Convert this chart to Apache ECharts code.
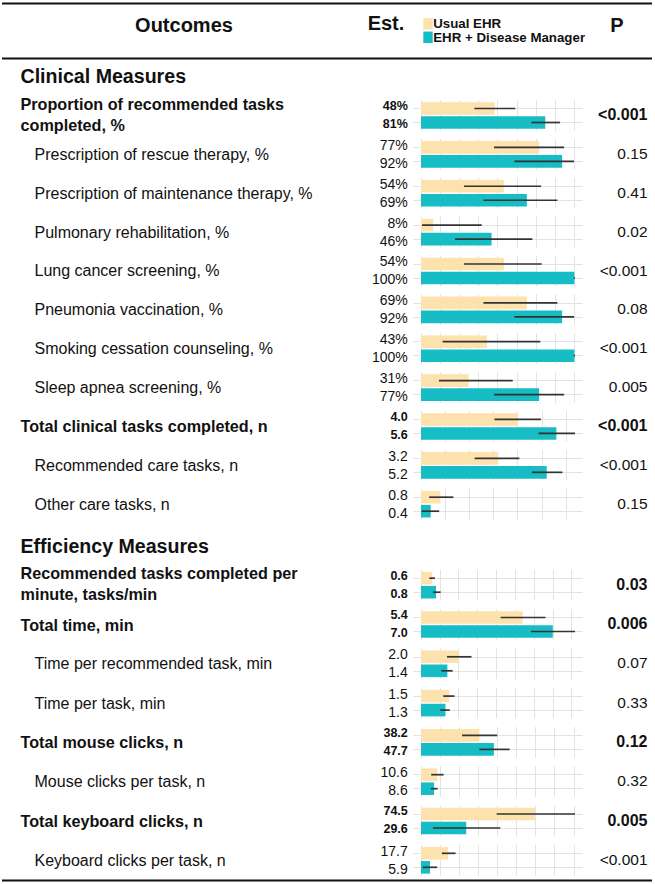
<!DOCTYPE html>
<html>
<head>
<meta charset="utf-8">
<title>Outcomes</title>
<script src="https://cdn.jsdelivr.net/npm/echarts@6/dist/echarts.min.js"></script>
<style>
  html, body { margin: 0; padding: 0; background: #fff; }
  #chart { width: 655px; height: 884px; }
</style>
</head>
<body>
<div id="chart"></div>
<script>
// outcomes, top to bottom
var outcomes = [
  'Proportion of recommended tasks\ncompleted, %',
  'Prescription of rescue therapy, %',
  'Prescription of maintenance therapy, %',
  'Pulmonary rehabilitation, %',
  'Lung cancer screening, %',
  'Pneumonia vaccination, %',
  'Smoking cessation counseling, %',
  'Sleep apnea screening, %',
  'Total clinical tasks completed, n',
  'Recommended care tasks, n',
  'Other care tasks, n',
  'Recommended tasks completed per\nminute, tasks/min',
  'Total time, min',
  'Time per recommended task, min',
  'Time per task, min',
  'Total mouse clicks, n',
  'Mouse clicks per task, n',
  'Total keyboard clicks, n',
  'Keyboard clicks per task, n'
];
var sections = ['Clinical Measures', 'Efficiency Measures'];
var sectionOf = [0, 0, 0, 0, 0, 0, 0, 0, 0, 0, 0, 1, 1, 1, 1, 1, 1, 1, 1];
var primary = [true, false, false, false, false, false, false, false, true, false, false,
  true, true, false, false, true, false, true, false];
var unitGroup = ['pct', 'pct', 'pct', 'pct', 'pct', 'pct', 'pct', 'pct',
  'count', 'count', 'count', 'time', 'time', 'time', 'time',
  'click', 'click', 'click', 'click'];

var usualEst = [48, 77, 54, 8, 54, 69, 43, 31, 4.0, 3.2, 0.8, 0.6, 5.4, 2.0, 1.5, 38.2, 10.6, 74.5, 17.7];
var usualLo  = [34.8, 47.6, 28, 0.7, 28, 40.7, 14.1, 11.7, 3.04, 2.22, 0.34, 0.44, 4.23, 1.38, 1.18, 26.9, 6.7, 49.5, 13.7];
var usualHi  = [61.5, 93.3, 78.3, 39.6, 78.7, 88.9, 77.8, 59.8, 4.96, 4.07, 1.34, 0.74, 6.61, 2.68, 1.78, 49.9, 14.8, 100.8, 22.6];

var dmEst = [81, 92, 69, 46, 100, 92, 100, 77, 5.6, 5.2, 0.4, 0.8, 7.0, 1.4, 1.3, 47.7, 8.6, 29.6, 5.9];
var dmLo  = [72, 60.9, 40.7, 22.2, 99.6, 60.9, 99.6, 47.6, 4.86, 4.59, 0.03, 0.63, 5.84, 1.08, 1.02, 38.2, 6.5, 7.8, 1.1];
var dmHi  = [90.7, 99.8, 88.9, 72.6, 100.4, 99.8, 100.4, 93.3, 6.37, 5.85, 0.75, 1.04, 8.18, 1.68, 1.53, 58, 10.9, 51.9, 10.6];

var pValues = ['<0.001', '0.15', '0.41', '0.02', '<0.001', '0.08', '<0.001', '0.005',
  '<0.001', '<0.001', '0.15', '0.03', '0.006', '0.07', '0.33', '0.12', '0.32', '0.005', '<0.001'];

// vertical grid lines per scale group
var pctTicks = [0, 12.5, 25, 37.5, 50, 62.5, 75, 87.5, 100];
var countTicks = [0, 1, 2, 3, 4, 5, 6];
var timeTicks = [0, 1, 2, 3, 4, 5, 6, 7, 8];
var clickTicks = [0, 12.5, 25, 37.5, 50, 62.5, 75, 87.5, 100];
var groupTicks = { pct: pctTicks, count: countTicks, time: timeTicks, click: clickTicks };

var seriesNames = ['Usual EHR', 'EHR + Disease Manager'];
var colors = ['#FDE2AD', '#17BDC4'];

var FONT = '"Liberation Sans", Arial, Helvetica, sans-serif';
var TEXT = '#111';
var panelLeft = 413.3, panelWidth = 169.4, panelHalf = 15.4;
var sectionFirst = [115.5, 585.2], rowStep = [38.87, 39.3];
var sectionTitleY = [75.8, 545.8];

// shared axis max per group (largest upper CI)
var groupMax = {};
unitGroup.forEach(function (g, i) {
  groupMax[g] = Math.max(groupMax[g] || 0, usualHi[i], dmHi[i]);
});

function fmtEst(v, g) {
  return g === 'pct' ? Math.round(v) + '%' : v.toFixed(1);
}

function renderBar(params, api) {
  var v = api.value(0), y = api.value(1);
  var lo = api.value(2), hi = api.value(3);
  var p0 = api.coord([0, y]);
  var p1 = api.coord([v, y]);
  var h = api.size([0, 0.9])[1];
  var a = api.coord([lo, y]);
  var b = api.coord([hi, y]);
  return {
    type: 'group',
    children: [
      { type: 'rect', shape: { x: p0[0], y: p0[1] - h / 2, width: p1[0] - p0[0], height: h },
        style: { fill: api.visual('color') } },
      { type: 'line', shape: { x1: a[0], y1: a[1], x2: b[0], y2: b[1] },
        style: { stroke: '#333', lineWidth: 1.7 } }
    ]
  };
}

var grids = [], xAxes = [], yAxes = [], series = [], graphic = [];
var counter = [0, 0];

outcomes.forEach(function (label, i) {
  var s = sectionOf[i];
  var yc = sectionFirst[s] + counter[s] * rowStep[s];
  counter[s]++;
  var g = unitGroup[i];
  var M = groupMax[g];
  var bold = primary[i] ? 'bold' : 'normal';

  grids.push({
    left: panelLeft, width: panelWidth, top: yc - panelHalf, height: panelHalf * 2,
    outerBoundsMode: 'none', containLabel: false
  });

  xAxes.push({
    type: 'value', gridIndex: i, min: -0.05 * M, max: 1.05 * M,
    axisLine: { show: false }, axisLabel: { show: false },
    axisTick: { show: false, customValues: groupTicks[g] },
    splitLine: { show: true, lineStyle: { color: '#e3e3e3', width: 1 } }
  });

  // left axis: estimates
  yAxes.push({
    type: 'value', gridIndex: i, min: 0.4, max: 2.6, inverse: true,
    axisLine: { show: false },
    axisTick: { show: false, customValues: [1, 2] },
    splitLine: { show: true, lineStyle: { color: '#e3e3e3', width: 1 } },
    axisLabel: {
      show: true, customValues: [0.82, 2.1], margin: 5.5,
      fontFamily: FONT, fontSize: primary[i] ? 12.5 : 14, fontWeight: bold, color: TEXT,
      formatter: function (v) { return v < 1.5 ? fmtEst(usualEst[i], g) : fmtEst(dmEst[i], g); }
    }
  });
  // right axis: P value
  yAxes.push({
    type: 'value', gridIndex: i, position: 'right', min: 0.4, max: 2.6, inverse: true,
    axisLine: { show: false }, splitLine: { show: false },
    axisTick: { show: false, customValues: [1.43] },
    axisLabel: {
      show: true, customValues: [1.43], margin: 64.8, align: 'right',
      fontFamily: FONT, fontSize: primary[i] ? 16 : 15.5, fontWeight: bold, color: TEXT,
      formatter: function () { return pValues[i]; }
    }
  });

  [[usualEst, usualLo, usualHi, 1], [dmEst, dmLo, dmHi, 2]].forEach(function (d, k) {
    series.push({
      type: 'custom', name: seriesNames[k], xAxisIndex: i, yAxisIndex: 2 * i,
      itemStyle: { color: colors[k] }, silent: true,
      renderItem: renderBar, encode: { x: 0, y: 1 },
      data: [[d[0][i], d[3], d[1][i], d[2][i]]]
    });
  });

  graphic.push({
    type: 'text', x: primary[i] ? 20.5 : 34.5, y: primary[i] && label.indexOf('\n') >= 0 ? yc - 1.5 : yc,
    style: {
      text: label, fill: TEXT, fontFamily: FONT, fontSize: primary[i] ? 16.2 : 16, fontWeight: bold,
      align: 'left', verticalAlign: 'middle', lineHeight: 21
    }
  });
});

sections.forEach(function (t, s) {
  graphic.push({
    type: 'text', x: 20.5, y: sectionTitleY[s],
    style: { text: t, fill: TEXT, fontFamily: FONT, fontSize: 19.6, fontWeight: 'bold',
      align: 'left', verticalAlign: 'middle' }
  });
});

// header
[['Outcomes', 184, 25], ['Est.', 386, 22.7], ['P', 617, 25]].forEach(function (h) {
  graphic.push({
    type: 'text', x: h[1], y: h[2],
    style: { text: h[0], fill: TEXT, fontFamily: FONT, fontSize: 20, fontWeight: 'bold',
      align: 'center', verticalAlign: 'middle' }
  });
});

// rules
[3.5, 58.5, 880.5].forEach(function (y) {
  graphic.push({
    type: 'line', shape: { x1: 2, y1: y, x2: 652, y2: y },
    style: { stroke: '#111', lineWidth: 2 }
  });
});

var chart = echarts.init(document.getElementById('chart'), null, { renderer: 'svg' });
chart.setOption({
  animation: false,
  backgroundColor: '#fff',
  legend: {
    data: seriesNames, orient: 'vertical', left: 423.3, top: 17.3, padding: 0,
    itemGap: 0.5, itemWidth: 9.4, itemHeight: 11.5, icon: 'rect', selectedMode: false,
    textStyle: { fontFamily: FONT, fontSize: 13.3, fontWeight: 'bold', color: TEXT, padding: [0, 0, 0, -4.5] }
  },
  grid: grids,
  xAxis: xAxes,
  yAxis: yAxes,
  series: series,
  graphic: graphic
});
</script>
</body>
</html>
